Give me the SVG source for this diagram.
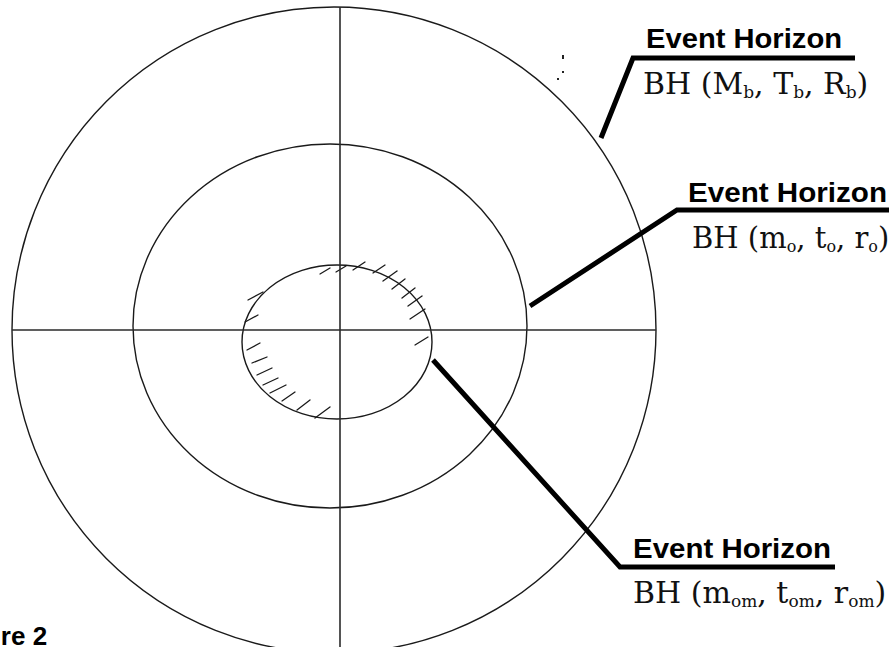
<svg xmlns="http://www.w3.org/2000/svg" width="889" height="647" viewBox="0 0 889 647">
<style>
.c{fill:none;stroke:#1a1a1a;stroke-width:1.4}
.ax{stroke:#2a2a2a;stroke-width:1.6}
.h{stroke:#1a1a1a;stroke-width:1.3;stroke-linecap:round}
.ld{fill:none;stroke:#000;stroke-width:5;stroke-linejoin:miter}
.t{font-family:"Liberation Sans",Arial,sans-serif;font-weight:bold;font-size:28px;fill:#000}
.s{font-family:"DejaVu Serif","Liberation Serif",serif;font-size:30px;fill:#111}
.sub{font-size:17px}
.s2{font-size:29px}
.sub2{font-size:16px}
</style>
<rect width="889" height="647" fill="#fff"/>
<g id="outer-horizon"><ellipse class="c" cx="334" cy="330" rx="322" ry="323"/></g>
<g id="middle-horizon"><ellipse class="c" cx="330" cy="326" rx="197" ry="182"/></g>
<g id="inner-horizon">
<ellipse class="c" cx="337" cy="342" rx="95" ry="77"/>
<g id="hatching">
<line class="h" x1="320" y1="274" x2="330" y2="268"/>
<line class="h" x1="336" y1="272" x2="346" y2="266"/>
<line class="h" x1="353" y1="270" x2="365" y2="262"/>
<line class="h" x1="373" y1="273" x2="385" y2="265"/>
<line class="h" x1="383" y1="281" x2="397" y2="271"/>
<line class="h" x1="392" y1="289" x2="405" y2="279"/>
<line class="h" x1="402" y1="298" x2="415" y2="288"/>
<line class="h" x1="408" y1="306" x2="422" y2="296"/>
<line class="h" x1="410" y1="319" x2="425" y2="309"/>
<line class="h" x1="415" y1="345" x2="428" y2="337"/>
<line class="h" x1="248" y1="300" x2="263" y2="292"/>
<line class="h" x1="245" y1="322" x2="258" y2="315"/>
<line class="h" x1="247" y1="350" x2="260" y2="343"/>
<line class="h" x1="252" y1="363" x2="267" y2="357"/>
<line class="h" x1="257" y1="375" x2="272" y2="368"/>
<line class="h" x1="263" y1="385" x2="278" y2="378"/>
<line class="h" x1="270" y1="393" x2="286" y2="385"/>
<line class="h" x1="282" y1="401" x2="295" y2="392"/>
<line class="h" x1="297" y1="410" x2="310" y2="400"/>
<line class="h" x1="315" y1="418" x2="330" y2="407"/>
</g>
</g>
<g id="axes">
<line class="ax" x1="340" y1="7" x2="340" y2="647"/>
<line class="ax" x1="12" y1="330" x2="656" y2="330"/>
</g>
<g id="specks" fill="#222">
<rect x="562" y="55" width="2" height="4"/>
<rect x="562" y="71" width="2" height="2"/>
<rect x="557" y="78" width="2" height="2"/>
</g>
<g id="connectors">
<polyline class="ld" points="601,138 633,58 855,58"/>
<polyline class="ld" points="530,306 677,210 889,210"/>
<polyline class="ld" points="433,360 620,567 835,567"/>
</g>
<g id="label-outer">
<text class="t" x="646" y="48" textLength="196" lengthAdjust="spacingAndGlyphs">Event Horizon</text>
<text class="s" x="643" y="94">BH (M<tspan class="sub" dy="4">b</tspan><tspan dy="-4">, T</tspan><tspan class="sub" dy="4">b</tspan><tspan dy="-4">, R</tspan><tspan class="sub" dy="4">b</tspan><tspan dy="-4">)</tspan></text>
</g>
<g id="label-middle">
<text class="t" x="688" y="202" textLength="199" lengthAdjust="spacingAndGlyphs">Event Horizon</text>
<text class="s s2" x="692" y="248">BH (m<tspan class="sub2" dy="4">o</tspan><tspan dy="-4">, t</tspan><tspan class="sub2" dy="4">o</tspan><tspan dy="-4">, r</tspan><tspan class="sub2" dy="4">o</tspan><tspan dy="-4">)</tspan></text>
</g>
<g id="label-inner">
<text class="t" x="633" y="558" textLength="198" lengthAdjust="spacingAndGlyphs">Event Horizon</text>
<text class="s" x="633" y="603">BH (m<tspan class="sub" dy="4">om</tspan><tspan dy="-4">, t</tspan><tspan class="sub" dy="4">om</tspan><tspan dy="-4">, r</tspan><tspan class="sub" dy="4">om</tspan><tspan dy="-4">)</tspan></text>
</g>
<g id="caption">
<text class="t" x="-54" y="645" style="font-size:26px">Figure 2</text>
</g>
</svg>
